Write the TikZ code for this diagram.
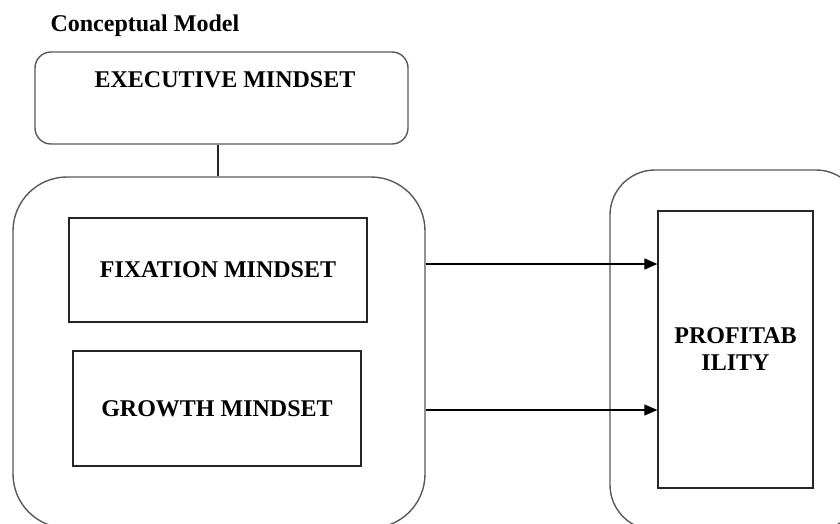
\documentclass[tikz,border=0pt]{standalone}
\usepackage{fontspec}
\setmainfont{Liberation Serif}
\usetikzlibrary{arrows.meta}

\begin{document}
\begin{tikzpicture}[x=1pt,y=-1pt,>={Triangle[length=13pt,width=11pt]},
       font=\fontsize{24}{27}\selectfont\bfseries,
       inner node/.style={draw=black!85,line width=1.3pt,inner sep=0pt,align=center},
       outer node/.style={draw=black!65,line width=1.4pt,inner sep=0pt}]

      \useasboundingbox (0,0) rectangle (840,524);

      \node[anchor=base west] at (47,32) (title) {Conceptual Model};
      \node[outer node,rounded corners=16pt,minimum width=373pt,minimum height=92pt] at (221.5,98) (exec) {};
      \node at (225,80) (execlabel) {EXECUTIVE MINDSET};
      \node[outer node,rounded corners=54pt,minimum width=412pt,minimum height=351pt] at (219,352.5) (mindsets) {};
      \node[inner node,minimum width=298pt,minimum height=104pt] at (218,270) (fixation) {FIXATION MINDSET};
      \node[inner node,minimum width=288pt,minimum height=115pt] at (217,408.5) (growth) {GROWTH MINDSET};
      \node[outer node,rounded corners=45pt,minimum width=251pt,minimum height=360pt] at (735.5,350) (outcome) {};
      \node[inner node,minimum width=155pt,minimum height=277pt] at (735.5,349.5) (profit) {PROFITAB\\ILITY};

      \path
      (exec.south -| fixation.north) edge [draw=black!85,line width=1.3pt] (fixation.north |- mindsets.north)
      ;
      \path
      (mindsets.east |- 0,264) edge [->,draw=black,line width=1.2pt] (profit.west |- 0,264)
      (mindsets.east |- 0,410) edge [->,draw=black,line width=1.2pt] (profit.west |- 0,410)
      ;

    \end{tikzpicture}
\end{document}
